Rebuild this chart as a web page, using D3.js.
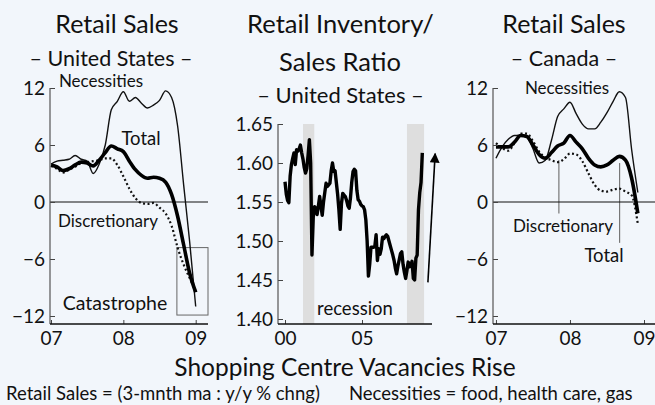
<!DOCTYPE html>
<html>
<head>
<meta charset="utf-8">
<script src="https://cdn.jsdelivr.net/npm/d3@7"></script>
<style>
  body { margin: 0; background: #f2f6fb; }
  svg { display: block; }
  text { font-family: "Lato", "Open Sans", sans-serif; fill: #111; }
</style>
</head>
<body>
<div id="chart"></div>
<script>
// monthly, Jan 2007 onward (3-mnth ma, y/y % chng)
const usNecessities = [4.0, 4.3, 4.4, 4.5, 4.9, 4.5, 4.3, 3.0, 4.0, 6.0, 9.7, 10.6, 11.6, 10.6, 11.0, 10.4, 9.9, 10.2, 10.7, 11.7, 11.0, 8.0, 1.8, -4.2, -11.0];
const usTotal = [3.9, 3.7, 3.3, 3.5, 3.9, 4.2, 4.1, 3.8, 4.4, 5.2, 5.9, 5.6, 5.3, 4.3, 3.4, 2.8, 2.5, 2.6, 2.5, 2.1, 0.8, -1.5, -4.5, -7.5, -9.5];
const usDiscretionary = [3.8, 3.5, 3.1, 3.4, 3.7, 4.1, 4.2, 4.3, 4.4, 4.6, 4.6, 3.9, 2.7, 1.4, 0.4, -0.1, -0.2, -0.1, -0.6, -1.2, -2.5, -4.8, -6.6, -8.0, -9.4];

const caNecessities = [4.6, 5.8, 6.6, 7.0, 7.0, 6.8, 5.6, 4.1, 4.4, 6.5, 9.0, 9.8, 10.5, 9.3, 8.2, 7.7, 7.7, 8.4, 9.4, 10.6, 11.6, 11.0, 5.5, 1.0];
const caTotal = [5.8, 5.8, 5.8, 6.3, 7.0, 6.9, 6.0, 5.0, 4.6, 5.2, 5.9, 6.2, 7.0, 6.3, 5.6, 4.6, 3.9, 3.7, 3.9, 4.4, 4.8, 4.4, 2.5, -1.2];
const caDiscretionary = [6.2, 5.7, 5.4, 6.2, 7.2, 7.2, 6.4, 5.3, 4.7, 4.4, 4.2, 4.5, 5.1, 5.0, 4.3, 3.0, 1.8, 1.2, 1.1, 1.3, 1.4, 1.1, 0.7, -2.3];

// monthly, Jan 2000 onward
const invSalesRatio = [1.576, 1.560, 1.552, 1.549, 1.583, 1.598, 1.606, 1.613, 1.598, 1.617, 1.615, 1.618,
  1.623, 1.613, 1.605, 1.594, 1.587, 1.593, 1.610, 1.630, 1.600, 1.482, 1.530, 1.544,
  1.542, 1.534, 1.545, 1.557, 1.545, 1.533, 1.550, 1.562, 1.574, 1.570, 1.572, 1.574,
  1.590, 1.600, 1.589, 1.590, 1.575, 1.560, 1.540, 1.515, 1.548, 1.561, 1.559, 1.557,
  1.552, 1.545, 1.542, 1.555, 1.575, 1.589, 1.592, 1.590, 1.565, 1.553, 1.551, 1.547,
  1.545, 1.544, 1.540, 1.527, 1.500, 1.455, 1.470, 1.492, 1.492, 1.492, 1.493, 1.508,
  1.475, 1.490, 1.483, 1.490, 1.505, 1.503, 1.506, 1.508, 1.506, 1.500, 1.494, 1.488,
  1.482, 1.475, 1.465, 1.458, 1.468, 1.476, 1.484, 1.486, 1.470, 1.460, 1.452, 1.462,
  1.473, 1.467, 1.468, 1.474, 1.452, 1.450, 1.478, 1.482, 1.540, 1.562, 1.575, 1.613];
const recessions = [[2001.17, 2001.9], [2007.92, 2009.03]];

const salesTicks = [-12, -6, 0, 6, 12];
const salesYears = [2007, 2008, 2009];
const ratioTicks = [1.40, 1.45, 1.50, 1.55, 1.60, 1.65];
const ratioYears = [2000, 2005];

const W = 655, H = 405;
const svg = d3.select("#chart").append("svg")
  .attr("width", W)
  .attr("height", H);

const yearFmt = d => String(d % 100).padStart(2, "0");
const axisBottomY = 324;

function drawYAxis(scale, ticks, x0, fmt) {
  const g = svg.append("g")
    .attr("transform", "translate(" + x0 + ",0)")
    .call(d3.axisLeft(scale).tickValues(ticks).tickFormat(fmt)
      .tickSizeInner(-5).tickSizeOuter(0).tickPadding(5));
  g.select(".domain").remove();
  g.append("line")
    .attr("x1", 0).attr("x2", 0)
    .attr("y1", scale(ticks[ticks.length - 1])).attr("y2", axisBottomY)
    .attr("stroke", "#555").attr("stroke-width", 1.2);
  g.selectAll(".tick line").attr("stroke", "#444");
  g.selectAll("text").attr("fill", "#111").style("font-size", "19px");
}

function drawXAxis(scale, ticks, x0, x1) {
  const g = svg.append("g")
    .attr("transform", "translate(0," + axisBottomY + ")")
    .call(d3.axisBottom(scale).tickValues(ticks).tickFormat(yearFmt)
      .tickSizeInner(-4).tickSizeOuter(0).tickPadding(8));
  g.select(".domain").remove();
  g.append("line")
    .attr("x1", x0).attr("x2", x1)
    .attr("y1", 0).attr("y2", 0)
    .attr("stroke", "#111").attr("stroke-width", 1.5);
  g.selectAll(".tick line").attr("stroke", "#444");
  g.selectAll("text").attr("fill", "#111").style("font-size", "19px");
}

function label(x, y, txt, size, anchor) {
  svg.append("text")
    .attr("x", x).attr("y", y)
    .attr("text-anchor", anchor || "middle")
    .style("font-size", size + "px")
    .text(txt);
}

function salesPanel(x, y, nec, tot, dis, xEnd) {
  const line = d3.line()
    .x((d, i) => x(2007 + i / 12))
    .y(d => y(d))
    .curve(d3.curveMonotoneX);

  svg.append("line")
    .attr("x1", x.range()[0]).attr("x2", xEnd)
    .attr("y1", y(0)).attr("y2", y(0))
    .attr("stroke", "#111").attr("stroke-width", 1.2);

  svg.append("path").datum(dis)
    .attr("d", line).attr("fill", "none")
    .attr("stroke", "#111").attr("stroke-width", 2.2)
    .attr("stroke-dasharray", "2,2.5");
  svg.append("path").datum(nec)
    .attr("d", line).attr("fill", "none")
    .attr("stroke", "#111").attr("stroke-width", 1.4);
  svg.append("path").datum(tot)
    .attr("d", line).attr("fill", "none")
    .attr("stroke", "#000").attr("stroke-width", 3.6);

  drawYAxis(y, salesTicks, x.range()[0], d3.format("d"));
  drawXAxis(x, salesYears, x.range()[0], xEnd);
}

// ---- left: US retail sales
const xUS = d3.scaleLinear().domain([2006.986, 2009.17]).range([50, 208]);
const yUS = d3.scaleLinear().domain([-12, 12]).range([316, 88]);

svg.append("rect")
  .attr("x", xUS(2008.74)).attr("y", yUS(-4.8))
  .attr("width", xUS(2009.17) - xUS(2008.74))
  .attr("height", yUS(-11.9) - yUS(-4.8))
  .attr("fill", "none").attr("stroke", "#666").attr("stroke-width", 1);

salesPanel(xUS, yUS, usNecessities, usTotal, usDiscretionary, 208);

label(117, 33, "Retail Sales", 25);
label(111, 66, "\u2013 United States \u2013", 21.5);
label(101, 87, "Necessities", 17);
label(141, 145, "Total", 18.5);
label(108, 227, "Discretionary", 17);
label(115, 310, "Catastrophe", 19.5);

// ---- middle: inventory / sales ratio
const xR = d3.scaleLinear().domain([2000, 2005]).range([285, 362]);
const yR = d3.scaleLinear().domain([1.40, 1.65]).range([319, 124]);

svg.selectAll(".recession")
  .data(recessions)
  .enter()
  .append("rect")
  .attr("class", "recession")
  .attr("x", d => xR(d[0]))
  .attr("width", d => xR(d[1]) - xR(d[0]))
  .attr("y", yR(1.65))
  .attr("height", axisBottomY - yR(1.65))
  .attr("fill", "#dedede");

svg.append("path").datum(invSalesRatio)
  .attr("d", d3.line().x((d, i) => xR(2000 + i / 12)).y(d => yR(d)))
  .attr("fill", "none")
  .attr("stroke", "#000").attr("stroke-width", 3.4)
  .attr("stroke-linejoin", "round");

drawYAxis(yR, ratioTicks, 278, d3.format(".2f"));
drawXAxis(xR, ratioYears, 278, 432);

// arrow
svg.append("defs").append("marker")
  .attr("id", "head")
  .attr("viewBox", "0 0 10 10")
  .attr("refX", 9).attr("refY", 5)
  .attr("markerWidth", 16).attr("markerHeight", 10)
  .attr("markerUnits", "userSpaceOnUse")
  .attr("orient", "auto")
  .append("path").attr("d", "M0,0 L10,5 L0,10 z").attr("fill", "#000");
svg.append("line")
  .attr("x1", xR(2009.28)).attr("y1", yR(1.447))
  .attr("x2", xR(2009.75)).attr("y2", yR(1.612))
  .attr("stroke", "#000").attr("stroke-width", 1.6)
  .attr("marker-end", "url(#head)");

label(355, 315, "recession", 18.5);
label(340.5, 33, "Retail Inventory/", 25.5);
label(340, 70.5, "Sales Ratio", 25.5);
label(340.5, 103, "\u2013 United States \u2013", 22);

// ---- right: Canada retail sales
const xCA = d3.scaleLinear().domain([2006.96, 2009]).range([493, 644]);
const yCA = d3.scaleLinear().domain([-12, 12]).range([316, 88]);

svg.append("line")
  .attr("x1", xCA(2007.85)).attr("x2", xCA(2007.85))
  .attr("y1", yCA(4.4)).attr("y2", yCA(-1.2))
  .attr("stroke", "#777").attr("stroke-width", 1.2);
svg.append("line")
  .attr("x1", xCA(2008.67)).attr("x2", xCA(2008.67))
  .attr("y1", yCA(4.1)).attr("y2", yCA(-4.3))
  .attr("stroke", "#777").attr("stroke-width", 1.2);

salesPanel(xCA, yCA, caNecessities, caTotal, caDiscretionary, 660);

label(564, 33, "Retail Sales", 25);
label(564, 66, "\u2013 Canada \u2013", 21.5);
label(567, 94, "Necessities", 17);
label(563, 232, "Discretionary", 17);
label(604, 262, "Total", 18.5);

// ---- bottom text
label(345, 376, "Shopping Centre Vacancies Rise", 24.5);
label(6, 400, "Retail Sales = (3-mnth ma : y/y % chng)", 18.5, "start");
label(349, 400, "Necessities = food, health care, gas", 18.5, "start");
</script>
</body>
</html>
